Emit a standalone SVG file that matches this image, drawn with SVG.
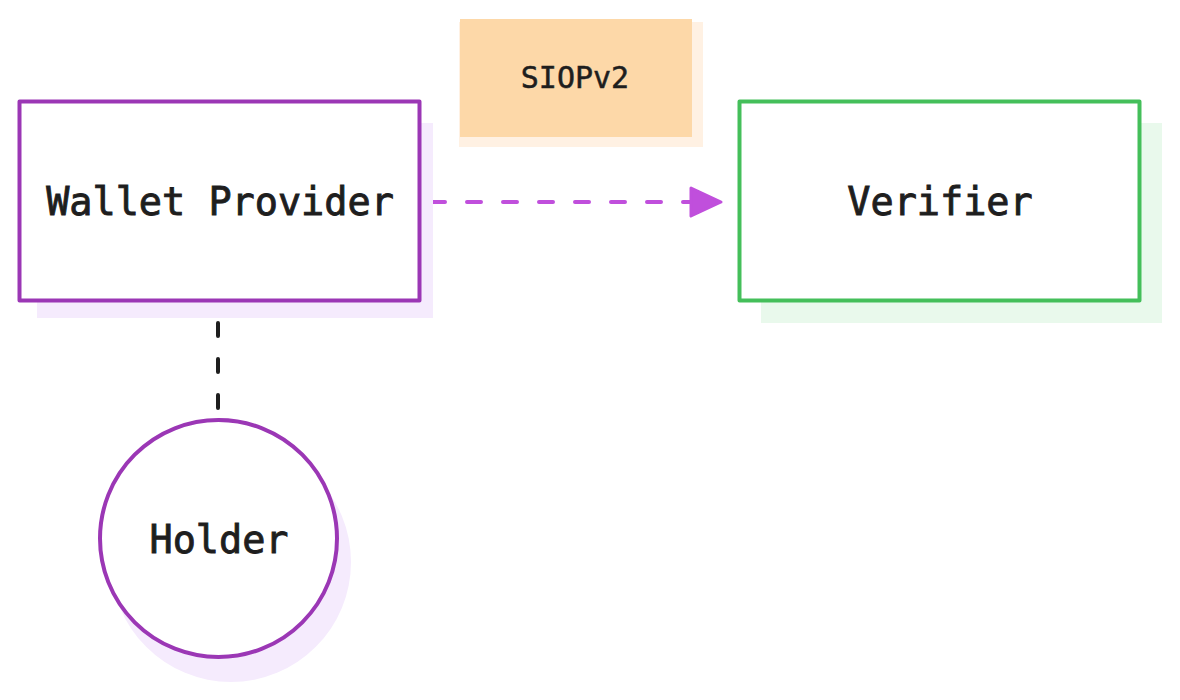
<svg xmlns="http://www.w3.org/2000/svg" width="1180" height="700" viewBox="0 0 1180 700">
<defs>
<style>
.lbl{font-family:"DejaVu Sans Mono","Liberation Mono",monospace;fill:#1e1e1e;text-anchor:middle}
.big{font-size:38.5px;stroke:#1e1e1e;stroke-width:0.9px}
.small{font-size:30px;stroke:#1e1e1e;stroke-width:0.5px}
</style>
</defs>
<rect width="1180" height="700" fill="#ffffff"/>
<g id="connectors">
<line x1="431" y1="202" x2="694" y2="202" stroke="#c04fdc" stroke-width="4" stroke-linecap="round" stroke-dasharray="14 22"/>
<path d="M691,188 L721,202 L691,216 z" fill="#c04fdc" stroke="#c04fdc" stroke-width="3" stroke-linejoin="round"/>
<line x1="218" y1="323" x2="218" y2="410" stroke="#1e1e1e" stroke-width="4" stroke-linecap="round" stroke-dasharray="13 23"/>
</g>
<g id="siopv2">
<rect x="459" y="22" width="244" height="125" fill="#fff1e3"/>
<rect x="460" y="19" width="232" height="118" fill="#fdd8a8"/>
<text class="lbl small" x="575" y="88">SIOPv2</text>
</g>
<g id="wallet-provider">
<rect x="37" y="123" width="396" height="195" fill="#f5ebfd"/>
<rect x="19.5" y="101.5" width="400" height="199" fill="#ffffff" stroke="#9b37b5" stroke-width="4" stroke-linejoin="round"/>
<text class="lbl big" x="220" y="215">Wallet Provider</text>
</g>
<g id="verifier">
<rect x="761" y="123" width="401" height="200" fill="#e9f9ec"/>
<rect x="739.5" y="101.5" width="400" height="199" fill="#ffffff" stroke="#44bf5a" stroke-width="4" stroke-linejoin="round"/>
<text class="lbl big" x="940" y="215">Verifier</text>
</g>
<g id="holder">
<circle cx="231" cy="562" r="120" fill="#f5ebfd"/>
<circle cx="218.5" cy="538.5" r="118.5" fill="#ffffff" stroke="#9b37b5" stroke-width="4"/>
<text class="lbl big" x="219" y="553">Holder</text>
</g>
</svg>
